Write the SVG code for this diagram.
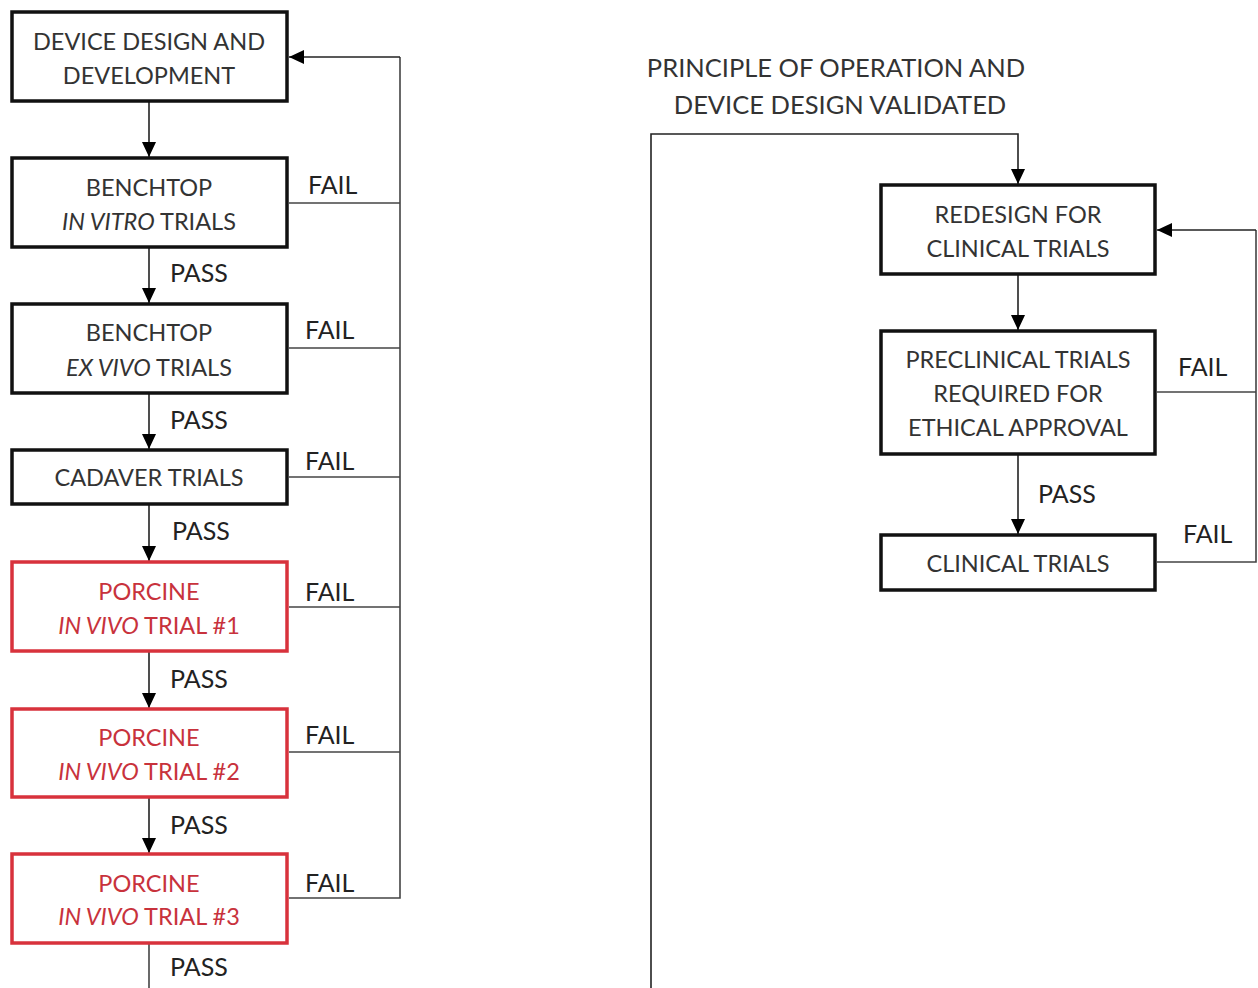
<svg xmlns="http://www.w3.org/2000/svg" width="1258" height="988" viewBox="0 0 1258 988">
<defs>
<marker id="ah" viewBox="0 0 15 14" refX="15" refY="7" markerWidth="15" markerHeight="14" markerUnits="userSpaceOnUse" orient="auto">
<path d="M0,0 L15,7 L0,14 Z" fill="#000"/>
</marker>
</defs>
<style>
.box{fill:#fff;stroke:#111;stroke-width:3.5}
.red{fill:#fff;stroke:#d8323c;stroke-width:3.5}
.t{font-family:Lato,"Open Sans","Liberation Sans",sans-serif;font-size:23.5px;fill:#333;text-anchor:middle}
.rt{fill:#c8323c}
.i{font-style:italic}
.lbl{font-family:Lato,"Open Sans","Liberation Sans",sans-serif;font-size:25px;fill:#222}
.c{fill:none;stroke:#444;stroke-width:1.6}
.ca{fill:none;stroke:#222;stroke-width:1.6;marker-end:url(#ah)}
</style>
<rect width="1258" height="988" fill="#fff"/>
<g id="connectors">
<line class="ca" x1="149" y1="102" x2="149" y2="157"/>
<line class="ca" x1="149" y1="248" x2="149" y2="303"/>
<line class="ca" x1="149" y1="394" x2="149" y2="449"/>
<line class="ca" x1="149" y1="505" x2="149" y2="561"/>
<line class="ca" x1="149" y1="652" x2="149" y2="708"/>
<line class="ca" x1="149" y1="798" x2="149" y2="853"/>
<line class="c" x1="149" y1="944" x2="149" y2="988"/>
<polyline class="c" points="289,203 400,203"/>
<polyline class="c" points="289,348 400,348"/>
<polyline class="c" points="289,477 400,477"/>
<polyline class="c" points="289,607 400,607"/>
<polyline class="c" points="289,752 400,752"/>
<polyline class="c" points="289,898 400,898 400,57"/>
<line class="ca" x1="400" y1="57" x2="289" y2="57"/>
<polyline class="ca" points="651,988 651,134 1018,134 1018,184"/>
<line class="ca" x1="1018" y1="275" x2="1018" y2="330"/>
<line class="ca" x1="1018" y1="455" x2="1018" y2="534"/>
<polyline class="c" points="1157,392 1256,392"/>
<polyline class="c" points="1157,562 1256,562 1256,230"/>
<line class="ca" x1="1256" y1="230" x2="1157" y2="230"/>
<text class="lbl" x="308" y="194">FAIL</text>
<text class="lbl" x="305" y="339">FAIL</text>
<text class="lbl" x="305" y="470">FAIL</text>
<text class="lbl" x="305" y="601">FAIL</text>
<text class="lbl" x="305" y="744">FAIL</text>
<text class="lbl" x="305" y="892">FAIL</text>
<text class="lbl" x="170" y="282">PASS</text>
<text class="lbl" x="170" y="429">PASS</text>
<text class="lbl" x="172" y="540">PASS</text>
<text class="lbl" x="170" y="688">PASS</text>
<text class="lbl" x="170" y="834">PASS</text>
<text class="lbl" x="170" y="976">PASS</text>
<text class="lbl" x="1178" y="376">FAIL</text>
<text class="lbl" x="1183" y="543">FAIL</text>
<text class="lbl" x="1038" y="503">PASS</text>
</g>
<g id="n1"><rect class="box" x="12" y="12" width="275" height="89"/>
<text class="t" x="149" y="50">DEVICE DESIGN AND</text><text class="t" x="149" y="84">DEVELOPMENT</text></g>
<g id="n2"><rect class="box" x="12" y="158" width="275" height="89"/>
<text class="t" x="149" y="196">BENCHTOP</text><text class="t" x="149" y="230"><tspan class="i">IN VITRO</tspan> TRIALS</text></g>
<g id="n3"><rect class="box" x="12" y="304" width="275" height="89"/>
<text class="t" x="149" y="341">BENCHTOP</text><text class="t" x="149" y="376"><tspan class="i">EX VIVO</tspan> TRIALS</text></g>
<g id="n4"><rect class="box" x="12" y="450" width="275" height="54"/>
<text class="t" x="149" y="486">CADAVER TRIALS</text></g>
<g id="n5"><rect class="red" x="12" y="562" width="275" height="89"/>
<text class="t rt" x="149" y="600">PORCINE</text><text class="t rt" x="149" y="634"><tspan class="i">IN VIVO</tspan> TRIAL #1</text></g>
<g id="n6"><rect class="red" x="12" y="709" width="275" height="88"/>
<text class="t rt" x="149" y="746">PORCINE</text><text class="t rt" x="149" y="780"><tspan class="i">IN VIVO</tspan> TRIAL #2</text></g>
<g id="n7"><rect class="red" x="12" y="854" width="275" height="89"/>
<text class="t rt" x="149" y="892">PORCINE</text><text class="t rt" x="149" y="925"><tspan class="i">IN VIVO</tspan> TRIAL #3</text></g>
<g id="header"><text class="t" x="836" y="77" style="font-size:25.5px">PRINCIPLE OF OPERATION AND</text>
<text class="t" x="840" y="114" style="font-size:25.5px">DEVICE DESIGN VALIDATED</text></g>
<g id="r1"><rect class="box" x="881" y="185" width="274" height="89"/>
<text class="t" x="1018" y="223">REDESIGN FOR</text><text class="t" x="1018" y="257">CLINICAL TRIALS</text></g>
<g id="r2"><rect class="box" x="881" y="331" width="274" height="123"/>
<text class="t" x="1018" y="368">PRECLINICAL TRIALS</text><text class="t" x="1018" y="402">REQUIRED FOR</text><text class="t" x="1018" y="436">ETHICAL APPROVAL</text></g>
<g id="r3"><rect class="box" x="881" y="535" width="274" height="55"/>
<text class="t" x="1018" y="572">CLINICAL TRIALS</text></g>
</svg>
